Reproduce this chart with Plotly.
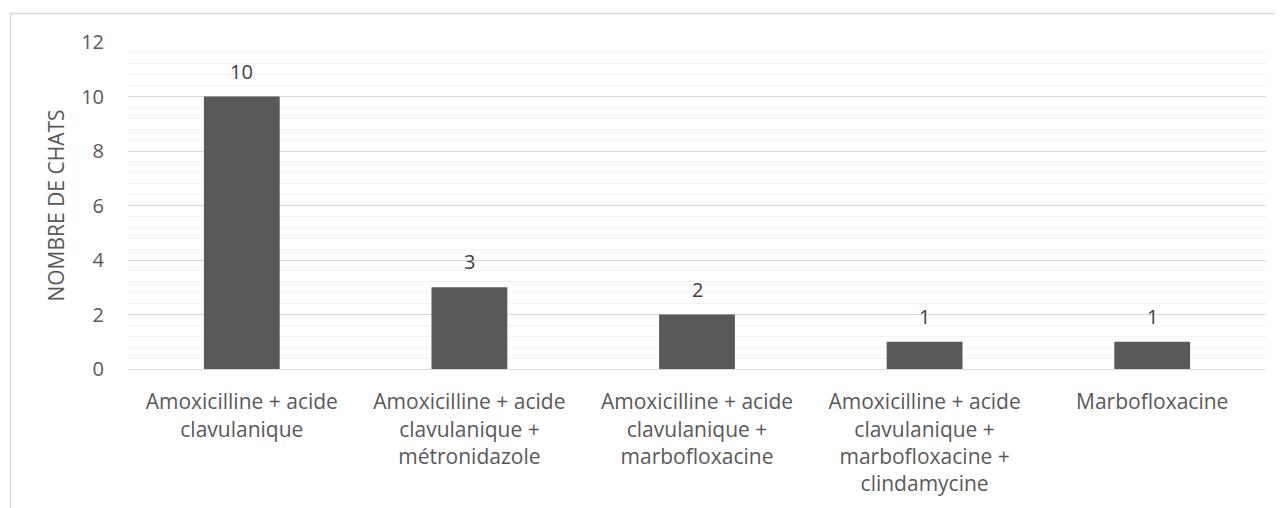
import plotly.graph_objects as go

categories = [
    "Amoxicilline + acide<br>clavulanique",
    "Amoxicilline + acide<br>clavulanique +<br>métronidazole",
    "Amoxicilline + acide<br>clavulanique +<br>marbofloxacine",
    "Amoxicilline + acide<br>clavulanique +<br>marbofloxacine +<br>clindamycine",
    "Marbofloxacine",
]
values = [10, 3, 2, 1, 1]
y_title = "NOMBRE DE CHATS"

# page body has an 8px margin, so the figure is offset by 8px
OFF = 8
W, H = 1283 - OFF, 508 - OFF
L, T = 128 - OFF, 42 - OFF
R = W - (1266 - OFF)
B = H - (369 - OFF)
pw, ph = W - L - R, H - T - B

fig = go.Figure(go.Bar(
    x=categories, y=values,
    marker=dict(color="#595959", line=dict(width=0)),
    cliponaxis=False,
))

for c, v in zip(categories, values):
    fig.add_annotation(
        x=c, y=v, text=str(v), showarrow=False,
        yanchor="bottom", yshift=10,
        font=dict(size=20, color="#404040"),
    )

font = "Open Sans"
fig.update_layout(
    width=W, height=H,
    margin=dict(l=L, r=R, t=T, b=B, autoexpand=False),
    plot_bgcolor="white", paper_bgcolor="white",
    bargap=0.667,
    showlegend=False,
    font=dict(family=font, color="#595959", size=20),
    shapes=[dict(
        type="rect", xref="paper", yref="paper",
        x0=(2.5 - L) / pw, x1=(1300 - L) / pw,
        y0=(H - B - 560) / ph, y1=(H - B - 5.5) / ph,
        line=dict(color="#d9d9d9", width=1.3), fillcolor="rgba(0,0,0,0)",
        layer="below",
    )],
)
fig.update_xaxes(
    showline=True, linecolor="#d9d9d9", linewidth=1,
    ticks="", tickfont=dict(size=21, color="#595959"),
    tickangle=0, ticklabelstandoff=14,
)
fig.update_yaxes(
    range=[0, 12], dtick=2, tick0=0,
    showgrid=True, gridcolor="#d9d9d9", gridwidth=1,
    zeroline=False, showline=False, ticks="",
    tickfont=dict(size=20, color="#595959"),
    ticklabelstandoff=23,
    minor=dict(dtick=0.4, tick0=0, showgrid=True, gridcolor="#f2f2f2", gridwidth=1),
    title=dict(text=y_title, font=dict(size=21, color="#595959"), standoff=10),
)

fig.write_html("out.html")
